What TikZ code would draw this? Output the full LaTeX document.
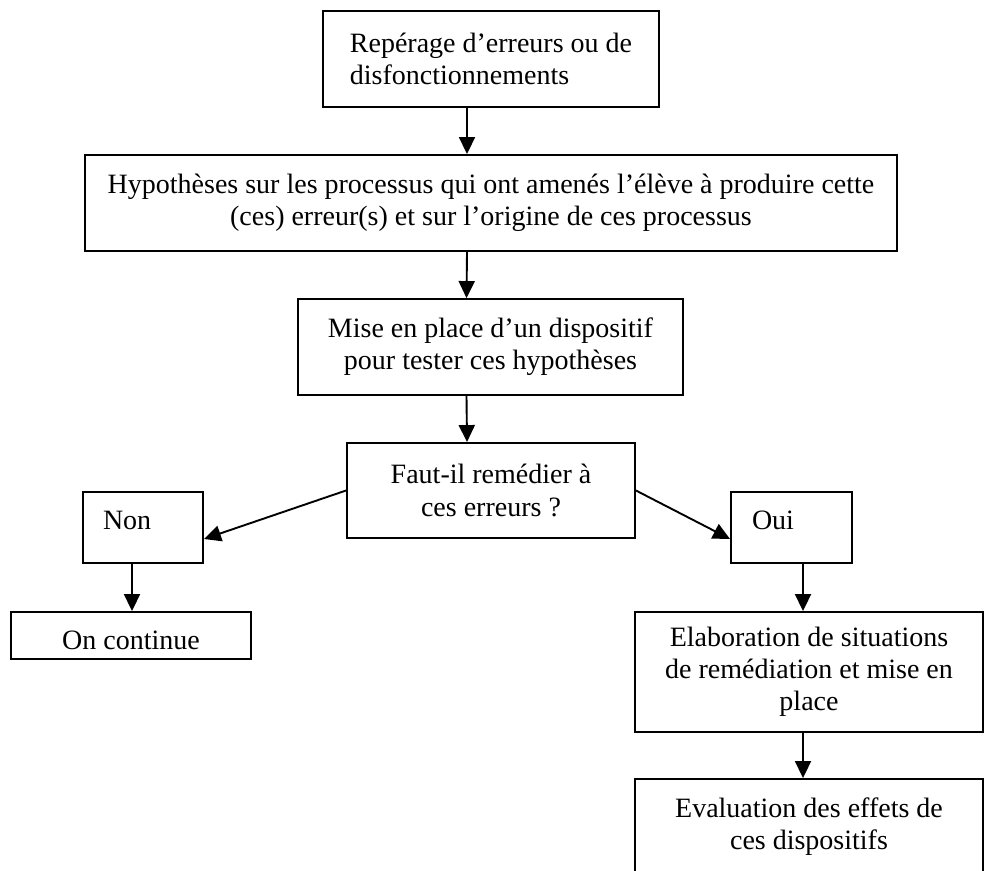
\documentclass[tikz,border=0pt]{standalone}
\usepackage{fontspec}
\setmainfont{Liberation Serif}
\usetikzlibrary{arrows.meta,calc}
\begin{document}
\begin{tikzpicture}[x=1pt,y=-1pt,
  box/.style={draw,line width=1.9pt,inner sep=0pt,font=\fontsize{28pt}{32.2pt}\selectfont,align=center},
  arr/.style={line width=1.9pt,-{Triangle[width=16pt,length=17pt]}}]
\useasboundingbox (0,0) rectangle (984,870);
\fill[white] (0,0) rectangle (984,870);
\clip (0,0) rectangle (984,870);
\node[box,minimum width=336pt,minimum height=96pt,align=left] (b1) at (491,59) {Repérage d’erreurs ou de\\disfonctionnements};
\node[box,minimum width=812pt,minimum height=96pt] (b2) at (491,203) {Hypothèses sur les processus qui ont amenés l’élève à produire cette\\(ces) erreur(s) et sur l’origine de ces processus};
\node[box,minimum width=385pt,minimum height=96pt] (b3) at (490.5,347) {Mise en place d’un dispositif\\pour tester ces hypothèses};
\node[box,minimum width=288pt,minimum height=95pt] (b4) at (491,490.5) {Faut-il remédier à\\ces erreurs ?};
\node[box,minimum width=120pt,minimum height=71pt,text width=80pt,align=left,inner xsep=20pt,text height=19pt,text depth=16pt] (non) at (143,527.5) {Non};
\node[box,minimum width=121pt,minimum height=71pt,text width=79pt,align=left,inner xsep=21pt,text height=19pt,text depth=16pt] (oui) at (791.5,527.5) {Oui};
\node[box,minimum width=240pt,minimum height=47pt,text height=27pt,text depth=0pt] (cont) at (131,635.5) {On continue};
\node[box,minimum width=348pt,minimum height=120pt] (elab) at (809,672) {Elaboration de situations\\de remédiation et mise en\\place};
\node[box,minimum width=348pt,minimum height=96pt] (eval) at (809,827) {Evaluation des effets de\\ces dispositifs};
\draw[arr] ([xshift=-24pt]b1.south) -- ([xshift=-24pt]b2.north);
\draw[arr] ([xshift=-24pt]b2.south) -- ([xshift=-24pt]b3.north);
\draw[arr] ([xshift=-24pt]b3.south) -- ([xshift=-24pt]b4.north);
\draw[arr] (b4.west) -- ([yshift=-11.5pt]non.east);
\draw[arr] (b4.east) -- ([yshift=-11.5pt]oui.west);
\draw[arr] ([xshift=-11pt]non.south) -- ([xshift=-11pt]non.south |- cont.north);
\draw[arr] ([xshift=11.5pt]oui.south) -- ([xshift=11.5pt]oui.south |- elab.north);
\draw[arr] ([xshift=-6pt]elab.south) -- ([xshift=-6pt]eval.north);
\end{tikzpicture}
\end{document}
